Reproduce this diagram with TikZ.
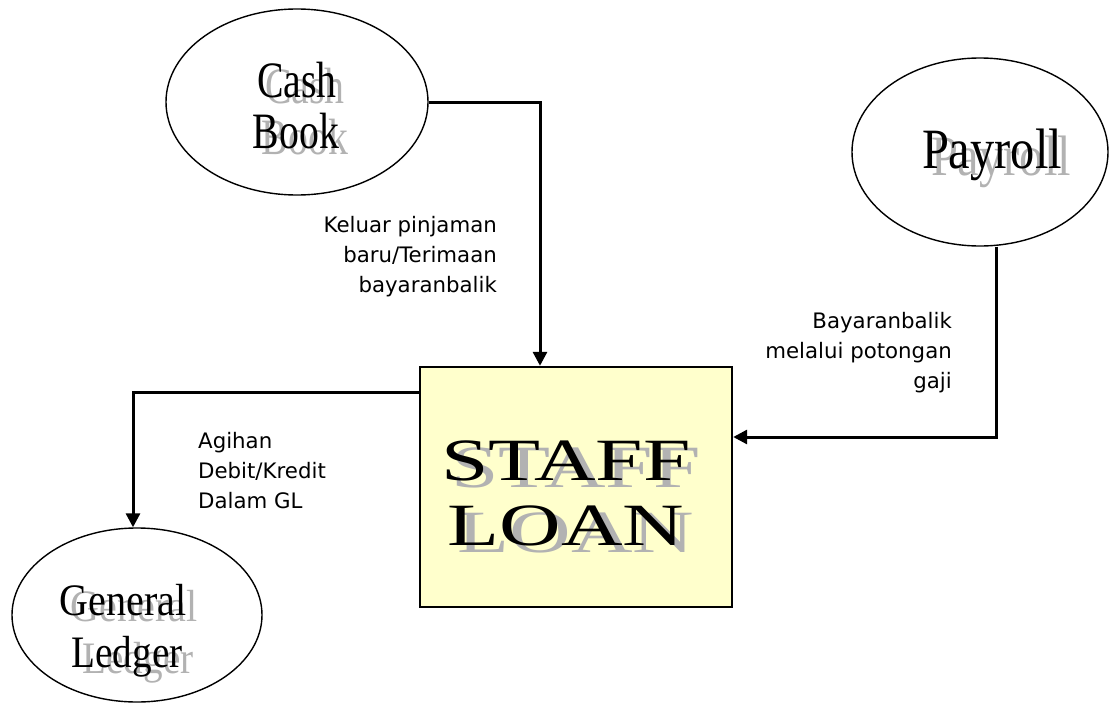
\documentclass[tikz,border=0pt]{standalone}
\usepackage{fontspec}
\usetikzlibrary{shapes.geometric,arrows.meta}
\newfontfamily\wafont{Liberation Serif}
\newfontfamily\lblfont{DejaVu Sans}
\definecolor{loanfill}{HTML}{FFFFCC}
\definecolor{shade}{HTML}{B2B2B2}
\begin{document}
\begin{tikzpicture}[x=1pt,y=-1pt,
  oval/.style={ellipse,draw=black,line width=1.4pt,inner sep=0},
  loanbox/.style={rectangle,draw=black,line width=2.4pt,fill=loanfill,minimum width=312pt,minimum height=240pt,inner sep=0},
  flow/.style={draw=black,line width=3pt,-{Triangle[length=14pt,width=14pt]}},
  lbl/.style={font=\lblfont\fontsize{21.3}{30}\selectfont,inner sep=0},
  wa/.style={inner sep=0,anchor=base,text=black},
  wash/.style={inner sep=0,anchor=base,text=shade},
  cbfont/.style={font=\wafont\fontsize{51}{51}\selectfont},
  pyfont/.style={font=\wafont\fontsize{57}{57}\selectfont},
  glfont/.style={font=\wafont\fontsize{45}{45}\selectfont},
  slfont/.style={font=\wafont\fontsize{60}{60}\selectfont}]
\useasboundingbox (0,0) rectangle (1109,704);

% shapes
\node[oval,minimum width=262pt,minimum height=186pt] (cb) at (297,102) {};
\node[oval,minimum width=256pt,minimum height=188pt] (py) at (980,152) {};
\node[oval,minimum width=250pt,minimum height=174pt] (gl) at (137,615) {};
\node[loanbox] (sl) at (576,487) {};

% Cash Book
\node[wash,cbfont] (cbs1) at (305,103) {\scalebox{0.78}[1]{Cash}};
\node[wash,cbfont] (cbs2) at (305,154) {\scalebox{0.78}[1]{Book}};
\node[wa,cbfont] (cbt1) at (297,97) {\scalebox{0.78}[1]{Cash}};
\node[wa,cbfont] (cbt2) at (296,148) {\scalebox{0.78}[1]{Book}};

% Payroll
\node[wash,pyfont] (pys) at (1001,175) {\scalebox{0.85}[1]{Payroll}};
\node[wa,pyfont] (pyt) at (992,168) {\scalebox{0.85}[1]{Payroll}};

% General Ledger
\node[wash,glfont] (gls1) at (134,621) {\scalebox{0.89}[1]{General}};
\node[wash,glfont] (gls2) at (138,673) {\scalebox{0.87}[1]{Ledger}};
\node[wa,glfont] (glt1) at (123,615) {\scalebox{0.89}[1]{General}};
\node[wa,glfont] (glt2) at (127,667) {\scalebox{0.87}[1]{Ledger}};

% Staff Loan
\node[wash,slfont] (sls1) at (576,487) {\scalebox{1.42}[1]{STAFF}};
\node[wash,slfont] (sls2) at (576,552) {\scalebox{1.42}[1]{LOAN}};
\node[wa,slfont] (slt1) at (566,480) {\scalebox{1.42}[1]{STAFF}};
\node[wa,slfont] (slt2) at (566,545) {\scalebox{1.42}[1]{LOAN}};

% connectors
\coordinate (k1) at (540,102);
\coordinate (k2) at (996,437);
\coordinate (k3) at (133,392);
\draw[flow] (cb.east) -- (k1) -- (k1 |- sl.north);
\draw[flow] (k2 |- py.south) -- (k2) -- (k2 -| sl.east);
\draw[flow] (k3 -| sl.west) -- (k3) -- (k3 |- gl.north);

% labels
\node[lbl,anchor=base east,align=right] (lc) at (497,292) {Keluar pinjaman\\baru/Terimaan\\bayaranbalik};
\node[lbl,anchor=base east,align=right] (lp) at (952,388) {Bayaranbalik\\melalui potongan\\gaji};
\node[lbl,anchor=base west,align=left] (lg) at (198,508) {Agihan\\Debit/Kredit\\Dalam GL};
\end{tikzpicture}
\end{document}
